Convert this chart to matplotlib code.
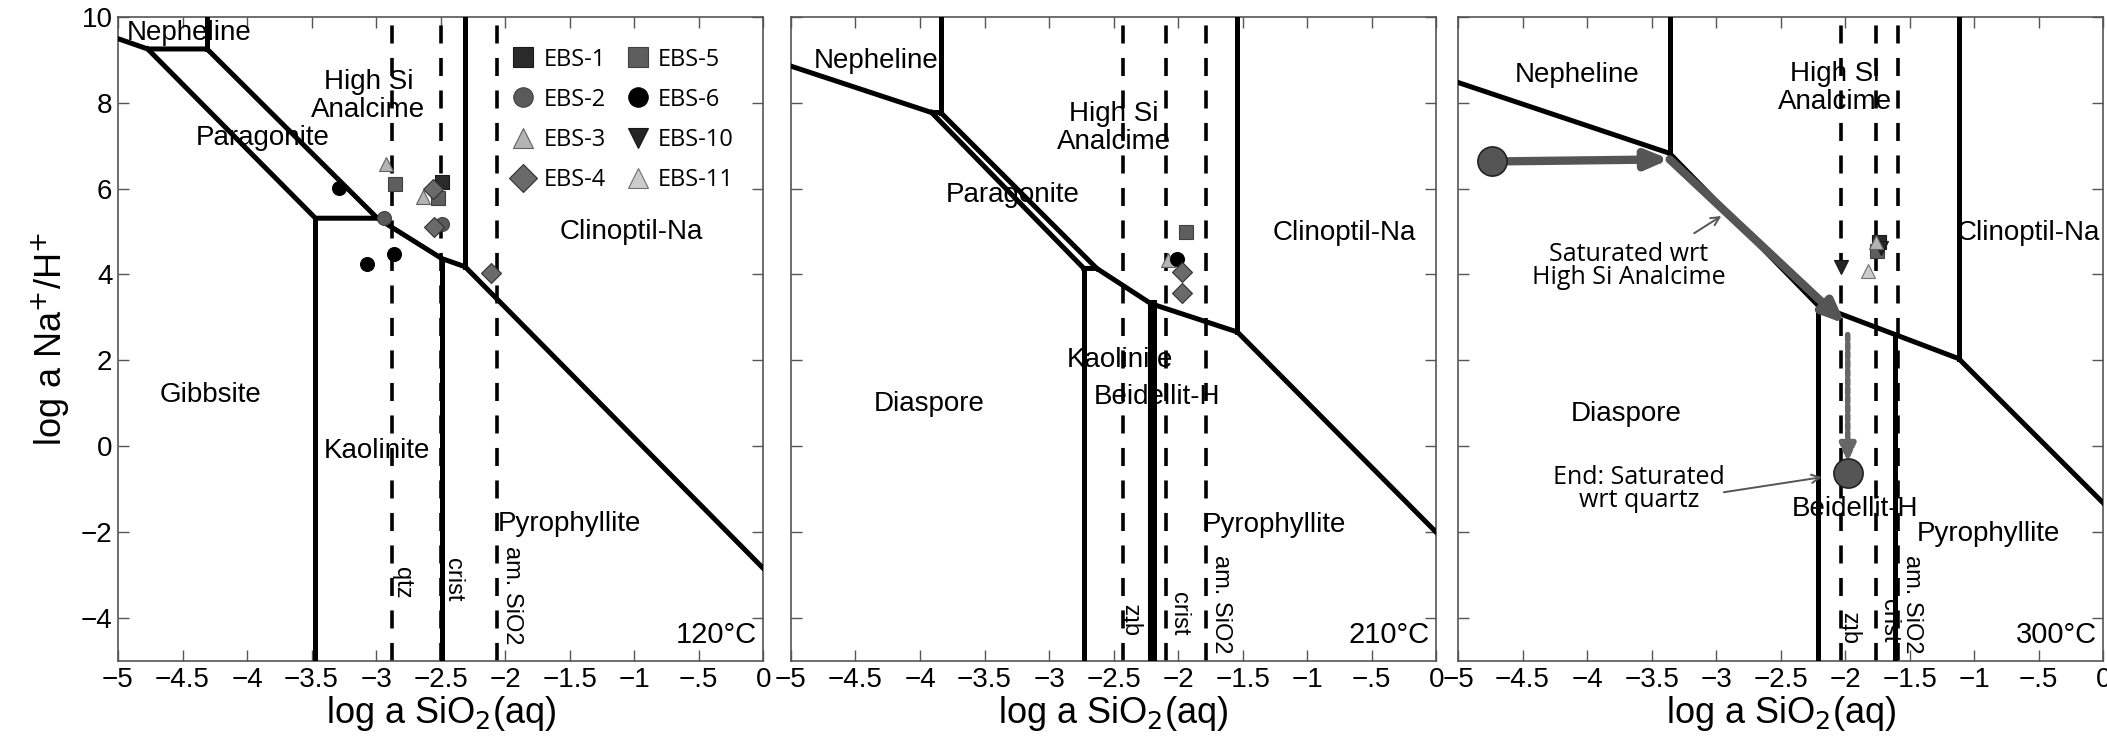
import numpy as np
import matplotlib
matplotlib.use('Agg')
import matplotlib.pyplot as plt

plt.rcParams['font.family'] = ['Liberation Sans Narrow', 'Liberation Sans', 'DejaVu Sans']
plt.rcParams['mathtext.fontset'] = 'custom'
plt.rcParams['mathtext.rm'] = 'Liberation Sans Narrow'

temps = ['120°C', '210°C', '300°C']

# phase boundaries: (x list, y list) per segment
bounds_120 = [
    ([-5, -4.77, -4.31], [9.49, 9.25, 9.25]),
    ([-4.31, -4.31], [9.25, 10]),
    ([-4.77, -3.47, -2.99], [9.25, 5.31, 5.31]),
    ([-3.47, -3.47], [5.31, -5]),
    ([-4.31, -2.99, -2.49, -2.31, 0], [9.25, 5.31, 4.37, 4.18, -2.84]),
    ([-2.49, -2.49], [4.37, -5]),
    ([-2.31, -2.31], [4.18, 10]),
]
bounds_210 = [
    ([-5, -3.91, -3.84], [8.85, 7.77, 7.77]),
    ([-3.84, -3.84], [7.77, 10]),
    ([-3.91, -2.73], [7.77, 4.14]),
    ([-3.84, -2.63], [7.77, 4.14]),
    ([-2.73, -2.63, -2.21, -1.54, 0], [4.14, 4.14, 3.32, 2.66, -2.0]),
    ([-2.73, -2.73], [4.14, -5]),
    ([-1.54, -1.54], [2.66, 10]),
]
thick_210 = [([-2.20, -2.20], [3.32, -5])]
bounds_300 = [
    ([-5, -3.36], [8.47, 6.82]),
    ([-3.36, -3.36], [6.82, 10]),
    ([-3.36, -2.21, -1.12, 0], [6.82, 3.28, 2.04, -1.32]),
    ([-2.21, -2.21], [3.28, -5]),
    ([-1.61, -1.61], [2.60, -5]),
    ([-1.12, -1.12], [2.04, 10]),
]

# silica saturation lines: qtz, crist, am. SiO2
silica_120 = [-2.88, -2.50, -2.06]
silica_210 = [-2.43, -2.09, -1.78]
silica_300 = [-2.03, -1.76, -1.59]

# region labels: (text, x, y)
labels_120 = [('Nepheline', -4.45, 9.62), ('High Si\nAnalcime', -3.06, 8.15),
              ('Paragonite', -3.88, 7.18), ('Clinoptil-Na', -1.02, 5.0),
              ('Gibbsite', -4.28, 1.2), ('Kaolinite', -2.99, -0.1),
              ('Pyrophyllite', -1.5, -1.8)]
labels_210 = [('Nepheline', -4.34, 8.96), ('High Si\nAnalcime', -2.5, 7.4),
              ('Paragonite', -3.28, 5.85), ('Clinoptil-Na', -0.71, 4.96),
              ('Kaolinite', -2.45, 2.02), ('Beidellit-H', -2.16, 1.14),
              ('Diaspore', -3.93, 0.99), ('Pyrophyllite', -1.25, -1.84)]
labels_300 = [('Nepheline', -4.08, 8.65), ('High Si\nAnalcime', -2.08, 8.34),
              ('Clinoptil-Na', -0.58, 4.96), ('Diaspore', -3.7, 0.76),
              ('Beidellit-H', -1.92, -1.46), ('Pyrophyllite', -0.89, -2.04)]
sil_lab_y = [[-3.17, -3.1, -3.48], [-4.0, -3.9, -3.67], [-4.2, -4.06, -3.67]]
sil_lab_dx = [0.08, 0.1, 0.11]

# sample data per panel
samples = ['EBS-1', 'EBS-2', 'EBS-3', 'EBS-4', 'EBS-5', 'EBS-6', 'EBS-10', 'EBS-11']
data_120 = {
    'EBS-1': ([-2.49], [6.16]),
    'EBS-5': ([-2.85, -2.52], [6.10, 5.79]),
    'EBS-2': ([-2.94, -2.49], [5.31, 5.18]),
    'EBS-6': ([-3.29, -3.07, -2.86], [6.01, 4.24, 4.47]),
    'EBS-3': ([-2.92, -2.64], [6.58, 5.81]),
    'EBS-4': ([-2.56, -2.55, -2.11], [6.0, 5.11, 4.04]),
}
data_210 = {
    'EBS-5': ([-1.94], [4.98]),
    'EBS-3': ([-2.08], [4.33]),
    'EBS-6': ([-2.01], [4.35]),
    'EBS-4': ([-1.97, -1.97], [4.05, 3.57]),
}
data_300 = {
    'EBS-1': ([-1.74], [4.75]),
    'EBS-5': ([-1.75], [4.55]),
    'EBS-10': ([-2.03, -1.72], [4.18, 4.62]),
    'EBS-3': ([-1.76], [4.75]),
    'EBS-11': ([-1.82], [4.08]),
}

# reaction path at 300 C
path_start = (-4.74, 6.63)
path_corner = (-3.36, 6.68)
path_sat = (-2.0, 2.85)
path_end = (-1.98, -0.62)

styles = {
    'EBS-1': dict(marker='s', color='#2a2a2a', mec='#1a1a1a'),
    'EBS-2': dict(marker='o', color='#5a5a5a', mec='#404040'),
    'EBS-3': dict(marker='^', color='#b4b4b4', mec='#606060'),
    'EBS-4': dict(marker='D', color='#6a6a6a', mec='#303030'),
    'EBS-5': dict(marker='s', color='#5e5e5e', mec='#404040'),
    'EBS-6': dict(marker='o', color='#000000', mec='#000000'),
    'EBS-10': dict(marker='v', color='#252525', mec='#151515'),
    'EBS-11': dict(marker='^', color='#cccccc', mec='#707070'),
}

fig = plt.figure(figsize=(21.07, 7.38), dpi=100)
lefts = [0.056, 0.3754, 0.692]
axes = [fig.add_axes([l, 0.1043, 0.3062, 0.873]) for l in lefts]

all_bounds = [bounds_120, bounds_210, bounds_300]
all_sil = [silica_120, silica_210, silica_300]
all_labels = [labels_120, labels_210, labels_300]
all_data = [data_120, data_210, data_300]
xt = np.arange(-5, 0.01, 0.5)
xtl = ['\u22125', '\u22124.5', '\u22124', '\u22123.5', '\u22123', '\u22122.5', '\u22122',
       '\u22121.5', '\u22121', '\u2212.5', '0']

for i, ax in enumerate(axes):
    for xs, ys in all_bounds[i]:
        ax.plot(xs, ys, color='k', lw=3.6, solid_joinstyle='miter', zorder=3)
    if i == 1:
        for xs, ys in thick_210:
            ax.plot(xs, ys, color='k', lw=6.5, zorder=3)
    for j, xv in enumerate(all_sil[i]):
        ax.plot([xv, xv], [-5, 10], color='k', lw=2.6, dashes=(5, 4), zorder=2)
    names = ['qtz', 'crist', 'am. SiO2']
    for j, nm in enumerate(names):
        rot = -90
        if nm == 'qtz' and i > 0:
            rot = 90
        ax.text(all_sil[i][j] + sil_lab_dx[j], sil_lab_y[i][j], nm, rotation=rot,
                ha='center', va='center', fontsize=17)
    for txt, x, y in all_labels[i]:
        ax.text(x, y, txt, ha='center', va='center', fontsize=20, linespacing=1.1)
    ax.text(-0.05, -4.4, temps[i], ha='right', va='center', fontsize=21)
    for s, (xs, ys) in all_data[i].items():
        st = styles[s]
        ax.plot(xs, ys, ls='none', marker=st['marker'], ms=10, mfc=st['color'],
                mec=st['mec'], mew=0.8, zorder=5)

    ax.set_xlim(-5, 0)
    ax.set_ylim(-5, 10)
    ax.set_xticks(xt)
    ax.set_xticklabels(xtl)
    ax.set_yticks(np.arange(-4, 10.1, 2))
    ax.tick_params(direction='in', top=True, right=True, length=8, width=1,
                   color='#555555', labelsize=20, pad=4)
    for sp in ax.spines.values():
        sp.set_color('#555555')
        sp.set_linewidth(1.2)
    ax.set_xlabel('log a SiO$_2$(aq)', fontsize=26, labelpad=1)
    if i > 0:
        ax.set_yticklabels([])

axes[0].set_ylabel('log a Na$^{+}$/H$^{+}$', fontsize=26, labelpad=6)

# legend
handles = [axes[0].plot([], [], ls='none', marker=styles[s]['marker'], ms=14,
                        mfc=styles[s]['color'], mec=styles[s]['mec'], mew=0.8)[0]
           for s in samples]
axes[0].legend(handles, samples, ncol=2, loc='upper left', frameon=False,
               bbox_to_anchor=(0.575, 0.985), handlelength=1.1, handletextpad=0.3,
               columnspacing=0.8, labelspacing=0.68,
               prop={'family': ['Open Sans', 'DejaVu Sans'], 'size': 17})

# reaction path on 300 C panel
ax = axes[2]
pc = '#555555'
ax.annotate('', xy=path_corner, xytext=path_start,
            arrowprops=dict(arrowstyle='-|>,head_length=1.3,head_width=0.55', color=pc,
                            lw=6, shrinkA=0, shrinkB=0), zorder=6)
ax.annotate('', xy=path_sat, xytext=path_corner,
            arrowprops=dict(arrowstyle='-|>,head_length=1.3,head_width=0.55', color=pc,
                            lw=6, shrinkA=0, shrinkB=0), zorder=6)
ax.annotate('', xy=(path_end[0], path_end[1] + 0.25), xytext=(path_end[0], 2.6),
            arrowprops=dict(arrowstyle='-|>,head_length=1.0,head_width=0.45', color='#666666',
                            lw=4, ls=(0, (1, 0.6)), shrinkA=0, shrinkB=0), zorder=6)
ax.plot(*path_start, marker='o', ms=21, mfc='#555555', mec='#222222', mew=1.2, zorder=7)
ax.plot(*path_end, marker='o', ms=21, mfc='#555555', mec='#222222', mew=1.2, zorder=7)

note_font = ['Open Sans', 'DejaVu Sans']
ax.text(-3.68, 4.2, 'Saturated wrt\nHigh Si Analcime', ha='center', va='center',
        fontsize=18, family=note_font, linespacing=0.9)
ax.annotate('', xy=(-2.96, 5.36), xytext=(-3.17, 4.96),
            arrowprops=dict(arrowstyle='->,head_length=0.6,head_width=0.3', color='#555555',
                            lw=1.4, shrinkA=0, shrinkB=0))
ax.text(-3.6, -0.99, 'End: Saturated\nwrt quartz', ha='center', va='center',
        fontsize=18, family=note_font, linespacing=0.9)
ax.annotate('', xy=(-2.18, -0.72), xytext=(-2.94, -1.07),
            arrowprops=dict(arrowstyle='->,head_length=0.6,head_width=0.3', color='#555555',
                            lw=1.4, shrinkA=0, shrinkB=0))

fig.savefig('out.png', dpi=100)
